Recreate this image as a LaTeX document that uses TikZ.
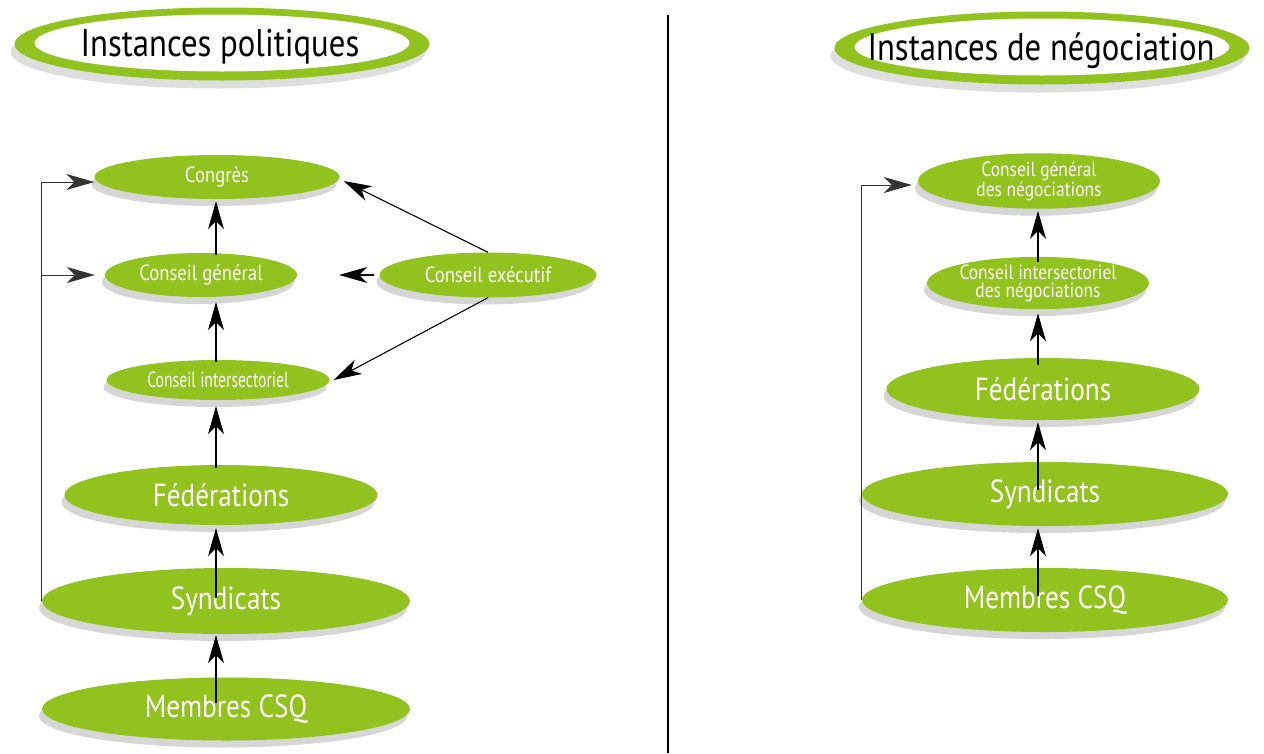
\documentclass[tikz,border=0pt]{standalone}
\usepackage{fontspec}
\setmainfont{PT Sans}[FakeStretch=0.85]
\usetikzlibrary{shapes.geometric,arrows.meta,shadows}
\definecolor{cgreen}{RGB}{145,194,30}
\newcommand\fz[2]{\fontsize{#1}{#2}\selectfont}
\begin{document}
\begin{tikzpicture}[x=1pt,y=-1pt,
  box/.style={ellipse, fill=cgreen, text=white, inner sep=0pt, align=center,
    drop shadow={shadow xshift=-3pt,shadow yshift=-7pt,fill=black!16,opacity=1}},
  titleouter/.style={ellipse, fill=cgreen, inner sep=0pt,
    drop shadow={shadow xshift=-4pt,shadow yshift=-8pt,fill=black!13,opacity=1}},
  titleinner/.style={ellipse, fill=white, inner sep=0pt},
  arr/.style={-{Stealth[length=28pt,width=16pt,inset=8pt]}, line width=1.3pt},
  fb/.style={line width=1pt, draw=black!80}
]
\useasboundingbox (0,0) rectangle (1264,753);
\fill[white] (0,0) rectangle (1264,753);

% titles
\node[titleouter, minimum width=415, minimum height=73] (t1o) at (222,44) {};
\node[titleinner, minimum width=375, minimum height=57] (t1i) at (222,43) {};
\node[font=\fz{38.5}{42}] (t1) at (220,47) {Instances politiques};
\node[titleouter, minimum width=415, minimum height=73] (t2o) at (1042,48) {};
\node[titleinner, minimum width=375, minimum height=57] (t2i) at (1042,47) {};
\node[font=\fz{38.5}{42}] (t2) at (1041,51) {Instances de négociation};

% divider
\coordinate (d1) at (668,15);
\coordinate (d2) at (668,753);
\draw[line width=1.6pt] (d1) -- (d2);

% left column
\node[box, minimum width=245, minimum height=44, font=\fz{22}{24}] (congres) at (217,177) {Congrès};
\node[box, minimum width=192, minimum height=44, font=\fz{22}{24}] (cg) at (201,275) {Conseil général};
\node[box, minimum width=217, minimum height=45, font=\fz{22}{24}] (ce) at (488,275) {Conseil exécutif};
\node[box, minimum width=223, minimum height=40, font=\fz{22}{24}] (ci) at (218,380) {\scalebox{0.84}[1]{Conseil intersectoriel}};
\node[box, minimum width=313, minimum height=60, font=\fz{32}{35}] (fed) at (221,495) {Fédérations};
\node[box, minimum width=368, minimum height=66, font=\fz{32}{35}] (synd) at (226,601) {Syndicats};
\node[box, minimum width=368, minimum height=63, font=\fz{32}{35}] (mem) at (226,709) {Membres CSQ};

\coordinate (a1) at (216,255);
\coordinate (a2) at (216,362);
\coordinate (a3) at (216,468);
\coordinate (a4) at (216,598);
\coordinate (a5) at (216,703);
\draw[arr, shorten >=2pt] (a1) -- (a1 |- congres.south);
\draw[arr, shorten >=5pt] (a2) -- (a2 |- cg.south);
\draw[arr, shorten >=6pt] (a3) -- (a3 |- ci.south);
\draw[arr, shorten >=3pt] (a4) -- (a4 |- fed.south);
\draw[arr, shorten >=1pt] (a5) -- (a5 |- synd.south);

\draw[arr, fb, shorten >=0pt] (synd.west) |- ([yshift=-5pt]congres.west);
\draw[arr, fb, shorten >=10pt] (synd.west |- cg.west) -- (cg.west);

\draw[arr, line width=1.1pt] (ce.north) -- ([xshift=4pt,yshift=-4pt]congres.east);
\draw[arr, line width=1.1pt] ([xshift=-5pt]ce.west) -- ([xshift=42pt]cg.east);
\draw[arr, line width=1.1pt] (ce.south) -- ([xshift=4pt]ci.east);

% right column
\node[box, minimum width=242, minimum height=46, font=\fz{20.5}{18}] (cgn) at (1039,181) {Conseil général\\des négociations};
\node[box, minimum width=217, minimum height=46, font=\fz{20.5}{18}] (cin) at (1038,283) {Conseil intersectoriel\\des négociations};
\node[box, minimum width=313, minimum height=62, font=\fz{32}{35}] (fedr) at (1043,389) {Fédérations};
\node[box, minimum width=366, minimum height=64, font=\fz{32}{35}] (syndr) at (1045,494) {Syndicats};
\node[box, minimum width=366, minimum height=64, font=\fz{32}{35}] (memr) at (1045,600) {Membres CSQ};

\coordinate (b1) at (1038,262);
\coordinate (b2) at (1038,365);
\coordinate (b3) at (1038,490);
\coordinate (b4) at (1038,596);
\draw[arr, shorten >=2pt] (b1) -- (b1 |- cgn.south);
\draw[arr, shorten >=4pt] (b2) -- (b2 |- cin.south);
\draw[arr, shorten >=2pt] (b3) -- (b3 |- fedr.south);
\draw[arr, shorten >=2pt] (b4) -- (b4 |- syndr.south);

\draw[arr, fb, shorten >=6pt] (memr.west) |- ([yshift=-4pt]cgn.west);
\end{tikzpicture}
\end{document}
